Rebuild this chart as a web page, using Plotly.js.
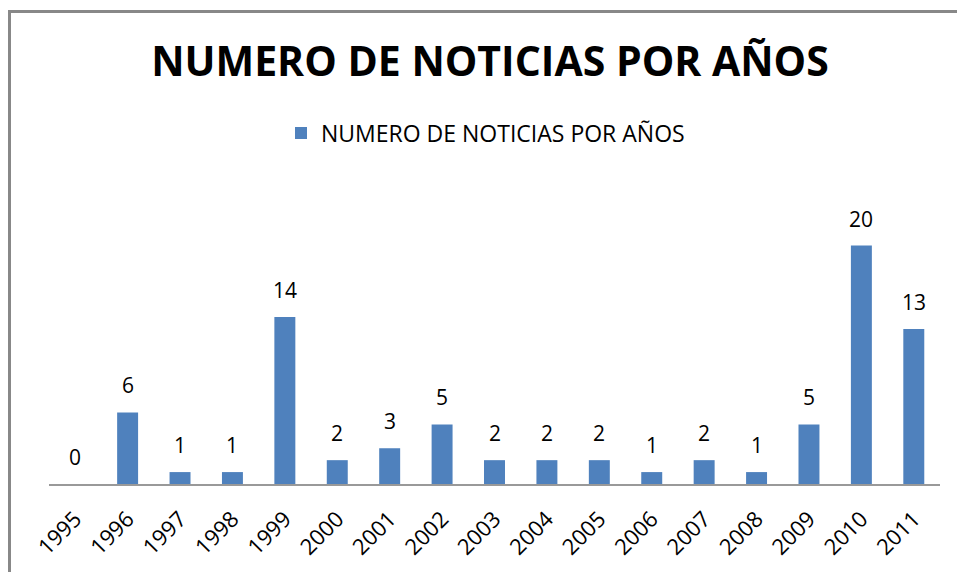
<!DOCTYPE html>
<html>
<head>
<meta charset="utf-8">
<script src="https://cdn.plot.ly/plotly-3.0.1.min.js"></script>
<style>
html,body{margin:0;padding:0;background:#fff;}
#wrap{position:relative;width:957px;height:572px;overflow:hidden;}
#frame{position:absolute;left:8px;top:10px;width:960px;height:600px;border-top:3px solid #888;border-left:3px solid #888;box-sizing:border-box;}
#chart{position:absolute;left:0;top:0;width:957px;height:572px;}
</style>
</head>
<body>
<div id="wrap">
<div id="frame"></div>
<div id="chart"></div>
</div>
<script>
const years = ["1995","1996","1997","1998","1999","2000","2001","2002","2003","2004","2005","2006","2007","2008","2009","2010","2011"];
const counts = [0,6,1,1,14,2,3,5,2,2,2,1,2,1,5,20,13];
const seriesName = "NUMERO DE NOTICIAS POR AÑOS";
const chartTitle = "NUMERO DE NOTICIAS POR AÑOS";

const fontFam = "'Open Sans', 'Noto Sans', sans-serif";

const trace = {
  type: 'bar',
  x: years,
  y: counts,
  name: seriesName,
  marker: {color: '#4F81BD'},
  width: 0.4,
  hoverinfo: 'x+y'
};

// data labels placed through the category axis (index of each category)
const labels = years.map((yr, i) => ({
  x: i, y: counts[i], xref: 'x', yref: 'y',
  text: String(counts[i]),
  showarrow: false,
  yanchor: 'middle', xanchor: 'center',
  yshift: 27,
  font: {family: fontFam, size: 21, color: '#000'}
}));

const layout = {
  width: 957,
  height: 572,
  paper_bgcolor: 'rgba(0,0,0,0)',
  plot_bgcolor: 'rgba(0,0,0,0)',
  margin: {l: 49, r: 17, t: 186, b: 88, pad: 0},
  showlegend: true,
  title: {
    text: '<b>' + chartTitle + '</b>',
    font: {family: fontFam, size: 41, color: '#000'},
    x: 490/957, xref: 'container', xanchor: 'center',
    y: 1 - 62/572, yref: 'container', yanchor: 'middle'
  },
  legend: {
    orientation: 'h',
    xref: 'container', yref: 'container',
    x: 281/957, xanchor: 'left',
    y: 1 - 133/572, yanchor: 'middle',
    font: {family: fontFam, size: 23, color: '#000'},
    itemwidth: 30
  },
  annotations: labels,
  xaxis: {
    type: 'category',
    categoryorder: 'array',
    categoryarray: years,
    range: [-0.5, years.length - 0.5],
    showline: true,
    linecolor: '#999',
    linewidth: 1.5,
    ticks: 'outside',
    ticklen: 12,
    tickcolor: 'rgba(0,0,0,0)',
    tickangle: -45,
    tickfont: {family: fontFam, size: 22, color: '#000'},
    showgrid: false,
    zeroline: false
  },
  yaxis: {
    range: [0, 25],
    visible: false,
    showgrid: false,
    zeroline: false
  },
  bargap: 0.6
};

Plotly.newPlot('chart', [trace], layout, {displayModeBar: false, staticPlot: true});
</script>
</body>
</html>
